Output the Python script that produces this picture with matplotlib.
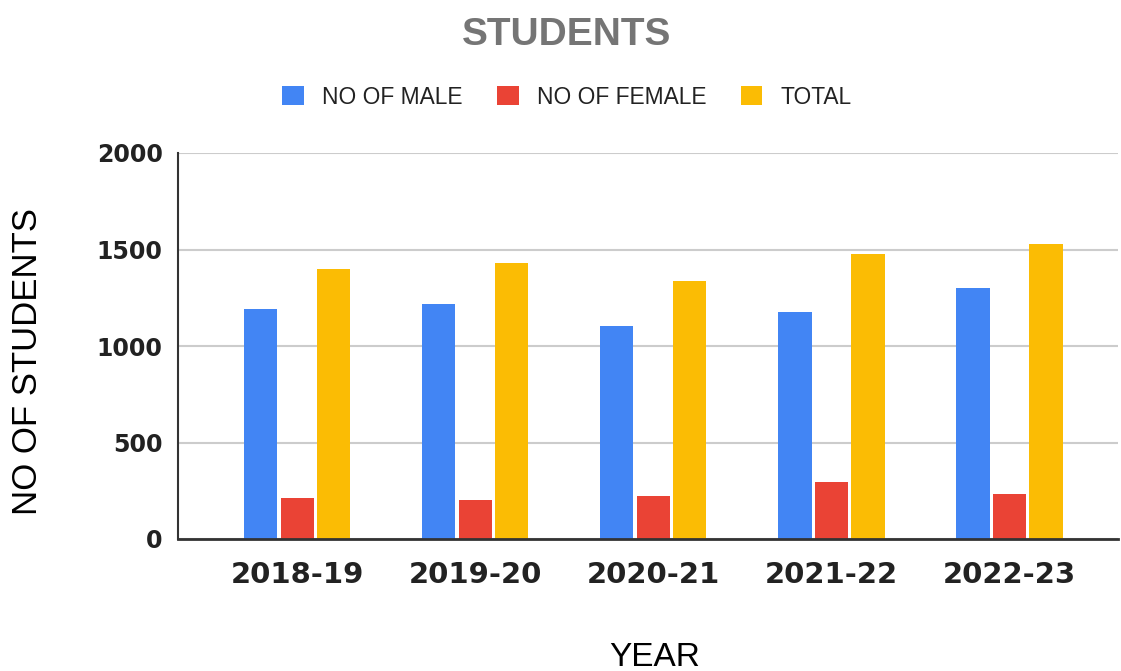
import matplotlib
matplotlib.use('Agg')
from matplotlib import pyplot as plt
from matplotlib.patches import Patch
import numpy as np

years = ['2018-19', '2019-20', '2020-21', '2021-22', '2022-23']
male = [1190, 1220, 1105, 1178, 1302]
female = [212, 203, 223, 294, 232]
total = [1399, 1429, 1335, 1479, 1531]

series = ['NO OF MALE', 'NO OF FEMALE', 'TOTAL']
colors = ['#4285F4', '#EA4335', '#FBBC04']

fig = plt.figure(figsize=(11.21, 6.71), dpi=100)
ax = fig.add_axes([178/1121, 1 - 539/671, 940/1121, 386/671])

x = np.arange(len(years))
width = 0.187
for i, (vals, c) in enumerate(zip([male, female, total], colors)):
    ax.bar(x + (i - 1) * 0.205, vals, width, color=c, zorder=3)

ax.set_xlim(-0.67, 4.61)
ax.set_ylim(0, 2000)
ax.set_yticks([0, 500, 1000, 1500, 2000])
ax.set_xticks(x)
ax.set_xticklabels(years)

ax.grid(axis='y', color='#cccccc', linewidth=1.5, zorder=0)
for s in ['top', 'right']:
    ax.spines[s].set_visible(False)
ax.spines['left'].set_color('#333333')
ax.spines['left'].set_linewidth(1.5)
ax.spines['bottom'].set_color('#333333')
ax.spines['bottom'].set_linewidth(2)
ax.spines['bottom'].set_zorder(4)

ax.tick_params(axis='y', length=0, pad=11, labelsize=17)
ax.tick_params(axis='x', length=0, pad=16, labelsize=21)
for lab in ax.get_xticklabels() + ax.get_yticklabels():
    lab.set_fontweight('bold')
    lab.set_fontfamily('DejaVu Sans')
    lab.set_color('#222222')

ax.set_ylabel('NO OF STUDENTS', fontsize=25, family='Liberation Sans', color='black', va='center')
ax.yaxis.set_label_coords(-0.16, 0.461)
ax.set_xlabel('YEAR', fontsize=24, family='Liberation Sans', color='black', va='center')
ax.xaxis.set_label_coords(0.507, -0.306)

fig.suptitle('STUDENTS', x=567/1121, y=1 - 35/671, va='center', fontsize=28,
             fontweight='bold', family='Liberation Sans', color='#757575')

handles = [Patch(facecolor=c, edgecolor='none') for c in colors]
leg = fig.legend(handles, series, loc='center', bbox_to_anchor=(567/1121, 1 - 97/671),
                 ncol=3, frameon=False, prop={'family': 'Liberation Sans', 'size': 16.4},
                 handlelength=0.95, handleheight=0.95, handletextpad=0.8,
                 columnspacing=1.5)
for t in leg.get_texts():
    t.set_color('#222222')

fig.savefig('out.png', dpi=100)
